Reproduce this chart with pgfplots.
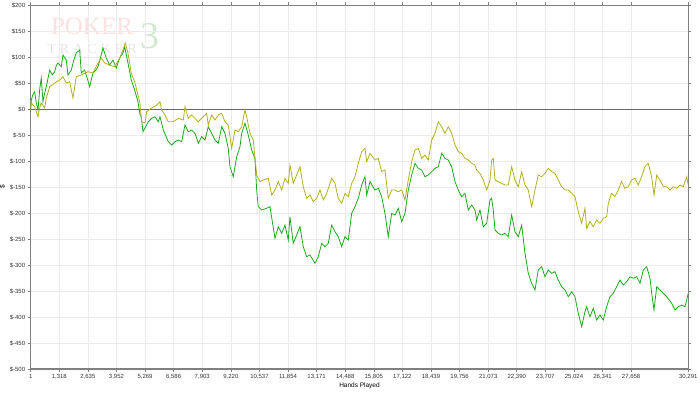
\documentclass[border=0pt]{standalone}
\usepackage{pgfplots}
\pgfplotsset{compat=1.18}
\usepackage{fontspec}
\setmainfont{Liberation Sans}
\newfontfamily\wmfont{Liberation Serif}
\definecolor{pgreen}{RGB}{28,168,28}
\definecolor{polive}{RGB}{178,176,30}
\definecolor{gridc}{RGB}{236,236,236}
\definecolor{axc}{RGB}{128,128,128}
\begin{document}
\begin{tikzpicture}
\path[use as bounding box] (0,0) rectangle (700pt,392pt);
% watermark
\node[inner sep=0pt, text=red!12, font=\wmfont\fontsize{25}{25}\selectfont] at (92pt,366pt) {POKER};
\node[inner sep=0pt, text=black!10, font=\wmfont\fontsize{14}{14}\selectfont] at (92pt,343pt) {T\hspace{4pt}R\hspace{4pt}A\hspace{4pt}C\hspace{4pt}K\hspace{4pt}E\hspace{4pt}R};
\node[inner sep=0pt, text=green!50!black!18, font=\wmfont\fontsize{38}{38}\selectfont] at (150pt,356pt) {3};
\begin{axis}[
  at={(30.7pt,23pt)}, anchor=south west,
  scale only axis, width=657.6pt, height=363.7pt,
  xmin=1, xmax=30291, ymin=-500, ymax=200,
  xtick={1,1318,2635,3952,5269,6586,7903,9220,10537,11854,13171,14488,15805,17122,18439,19756,21073,22390,23707,25024,26341,27658,30291},
  xticklabels={1,{1,318},{2,635},{3,952},{5,269},{6,586},{7,903},{9,220},{10,537},{11,854},{13,171},{14,488},{15,805},{17,122},{18,439},{19,756},{21,073},{22,390},{23,707},{25,024},{26,341},{27,658},{30,291}},
  ytick={-500,-450,-400,-350,-300,-250,-200,-150,-100,-50,0,50,100,150,200},
  yticklabels={\$-500,\$-450,\$-400,\$-350,\$-300,\$-250,\$-200,\$-150,\$-100,\$-50,\$0,\$50,\$100,\$150,\$200},
  grid=major, major grid style={draw=gridc, line width=0.6pt},
  axis line style={draw=axc, line width=1.2pt},
  tick align=outside, major tick length=3pt,
  tick style={draw=axc, line width=0.6pt},
  tick label style={font=\fontsize{6}{7}\selectfont, text=black!80},
  xticklabel style={yshift=1pt},
  yticklabel style={xshift=1pt},
  xlabel={Hands Played}, ylabel={\$},
  label style={font=\fontsize{6.5}{7}\selectfont},
  xlabel style={yshift=4pt},
  ylabel style={yshift=-2pt},
  scaled x ticks=false,
]
\addplot[black!60, line width=0.9pt, forget plot] coordinates {(1,0) (30291,0)};
\addplot[pgreen, line width=0.8pt] coordinates {
(1,0) (28,17.7) (100,28) (184,33.7) (260,12) (336,-1.5) (420,40) (488,60) (567,14.4) (640,30) (719,43.3) (800,60) (875,75.4) (990,66) (1105,72.2) (1180,84) (1257,88.9) (1409,81.8) (1488,104.3) (1640,94.7) (1718,65.8) (1870,75.4) (1990,95) (2100,108.2) (2257,113.9) (2331,69.7) (2487,75.4) (2600,60) (2718,43.3) (2870,69.7) (3000,75) (3100,81.8) (3220,100) (3330,117.8) (3482,98.5) (3639,85.1) (3791,94.7) (3943,79.3) (4099,98.5) (4251,108.2) (4330,120.3) (4482,88.9) (4634,56.2) (4790,37) (4942,14.4) (5034,-10) (5094,-14.4) (5173,-43.3) (5265,-36.2) (5417,-24.1) (5573,-17.5) (5725,-14.4) (5877,-24.1) (5956,-14.4) (6108,-40) (6338,-62.5) (6494,-68.9) (6647,-62.5) (6798,-59.3) (6955,-62.5) (7107,-30.4) (7259,-43.3) (7416,-40) (7568,-46.4) (7720,-65.6) (7876,-52.9) (8028,-59.3) (8180,-33.7) (8337,-46.4) (8489,-59.3) (8641,-65.6) (8798,-33.7) (8950,-46.4) (9101,-75.3) (9180,-110.7) (9332,-129.9) (9488,-91.4) (9640,-72.2) (9719,-46.4) (9871,-27.1) (10023,-49.7) (10179,-78.5) (10331,-94.5) (10410,-155.5) (10483,-187.6) (10640,-194) (10870,-190.7) (11022,-187.6) (11253,-248.5) (11405,-226.1) (11561,-238.8) (11713,-222.9) (11865,-251.7) (11943,-206.9) (12095,-258.1) (12252,-242.1) (12404,-226.1) (12556,-264.6) (12713,-283.9) (12865,-280.6) (13095,-296.6) (13247,-283.9) (13404,-258.1) (13556,-264.6) (13708,-258.1) (13864,-222.9) (14016,-235.8) (14168,-245.4) (14325,-264.6) (14477,-245.4) (14629,-251.7) (14785,-200.4) (14937,-187.6) (15089,-171.5) (15246,-145.9) (15398,-129.9) (15476,-165.1) (15628,-139.5) (15858,-155.5) (16011,-152.2) (16167,-168.4) (16319,-200.4) (16471,-245.4) (16628,-200.4) (16780,-203.6) (16932,-190.7) (17089,-216.5) (17241,-200.4) (17393,-155.5) (17549,-126.6) (17701,-104.1) (17853,-113.7) (18010,-117) (18162,-129.9) (18314,-126.6) (18471,-120.3) (18623,-113.7) (18775,-110.7) (18931,-84.9) (19083,-94.5) (19235,-97.8) (19392,-110.7) (19544,-139.5) (19696,-155.5) (19852,-168.4) (20004,-161.9) (20156,-194) (20313,-184.4) (20465,-194) (20543,-213.2) (20695,-194) (20847,-226.1) (21004,-219.6) (21156,-174.8) (21234,-171.5) (21308,-194) (21386,-232.5) (21538,-238.8) (21695,-242.1) (21847,-238.8) (21999,-245.4) (22155,-203.6) (22307,-235.8) (22459,-245.4) (22616,-222.9) (22768,-277.3) (22920,-315.8) (23076,-335.1) (23228,-348) (23380,-309.5) (23537,-303.1) (23689,-322.4) (23841,-309.5) (23997,-315.8) (24149,-312.7) (24301,-328.7) (24458,-341.6) (24610,-348) (24762,-360.9) (24919,-351.2) (25071,-360.9) (25223,-392.8) (25379,-418.6) (25531,-389.7) (25609,-380.1) (25761,-399.4) (25914,-383.2) (26070,-405.7) (26222,-396.1) (26374,-405.7) (26531,-380.1) (26683,-360.9) (26835,-354.3) (26992,-341.6) (27144,-328.7) (27296,-338.3) (27453,-332) (27605,-322.4) (27757,-325.4) (27914,-322.4) (28066,-335.1) (28218,-309.5) (28375,-303.1) (28527,-325.4) (28605,-354.3) (28711,-386.5) (28836,-341.6) (28988,-348) (29140,-354.3) (29296,-360.9) (29527,-373.6) (29679,-386.5) (29831,-380.1) (29988,-376.8) (30140,-380.1) (30290,-354.3)
};
\addplot[polive, line width=0.8pt] coordinates {
(1,0) (14,13.9) (100,8) (184,4.8) (260,-5) (336,-14.4) (400,0) (474,11.9) (645,2.3) (719,21.6) (875,43.3) (1105,50.4) (1336,56.2) (1488,62.5) (1640,50.4) (1796,52.9) (1948,21.6) (2100,62.5) (2331,65.8) (2639,72.2) (2870,69.7) (3100,88.9) (3252,98.5) (3408,88.9) (3639,85.1) (3869,81.8) (4099,98.5) (4251,113.9) (4357,127.4) (4482,108.2) (4634,69.7) (4790,52.9) (4942,27.3) (5034,11.4) (5113,-24.1) (5265,-26.6) (5343,-4.8) (5573,2.3) (5804,8.1) (5956,14.4) (6034,-1.5) (6186,-11.2) (6338,-24.1) (6568,-24.1) (6798,-17.5) (7029,-20.8) (7107,4.8) (7259,-17.5) (7416,-11.2) (7568,-17.5) (7720,-24.1) (7876,-17.5) (8106,-7.9) (8180,-30.4) (8337,-11.2) (8489,-20.8) (8641,-11.2) (8798,-7.9) (8950,-24.1) (9101,-30.4) (9258,-75.3) (9410,-40) (9562,-43.3) (9719,-33.7) (9871,-1.5) (9949,-14.4) (10101,-46.4) (10253,-59.3) (10410,-126.6) (10562,-139.5) (10714,-136.3) (10944,-133) (11101,-165.1) (11253,-155.5) (11405,-139.5) (11561,-155.5) (11713,-133) (11865,-142.6) (11943,-107.4) (12095,-142.6) (12252,-126.6) (12404,-110.7) (12556,-149.2) (12713,-171.5) (12865,-165.1) (13017,-178) (13173,-171.5) (13325,-155.5) (13477,-174.8) (13634,-161.9) (13864,-133) (14016,-142.6) (14168,-171.5) (14325,-181.1) (14477,-161.9) (14629,-168.4) (14785,-142.6) (14937,-129.9) (15089,-104.1) (15246,-81.8) (15398,-75.3) (15476,-101) (15628,-84.9) (15858,-97.8) (16011,-94.5) (16167,-120.3) (16319,-117) (16471,-171.5) (16628,-155.5) (16780,-155.5) (16932,-158.8) (17089,-155.5) (17241,-174.8) (17393,-136.3) (17549,-101) (17701,-78.5) (17853,-75.3) (18010,-94.5) (18162,-88.1) (18314,-97.8) (18471,-59.3) (18623,-46.4) (18775,-24.1) (18931,-33.7) (19083,-46.4) (19235,-33.7) (19392,-46.4) (19544,-68.9) (19696,-81.8) (19852,-84.9) (20004,-94.5) (20156,-97.8) (20313,-104.1) (20465,-107.4) (20543,-117) (20695,-123.4) (20847,-136.3) (21004,-155.5) (21156,-136.3) (21234,-97.8) (21308,-94.5) (21386,-136.3) (21538,-139.5) (21695,-142.6) (21847,-145.9) (21999,-145.9) (22155,-110.7) (22307,-136.3) (22459,-149.2) (22616,-120.3) (22768,-145.9) (22920,-155.5) (23076,-187.6) (23228,-155.5) (23380,-126.6) (23537,-129.9) (23689,-123.4) (23841,-113.7) (23997,-120.3) (24149,-123.4) (24301,-136.3) (24458,-149.2) (24610,-155.5) (24762,-155.5) (24919,-161.9) (25071,-168.4) (25223,-197.3) (25379,-219.6) (25531,-190.7) (25609,-229.2) (25761,-216.5) (25914,-226.1) (26070,-213.2) (26222,-219.6) (26374,-210) (26531,-206.9) (26605,-181.1) (26757,-161.9) (26909,-168.4) (27061,-155.5) (27218,-139.5) (27370,-152.2) (27522,-149.2) (27679,-136.3) (27831,-133) (27983,-145.9) (28140,-129.9) (28292,-110.7) (28444,-104.1) (28601,-129.9) (28711,-165.1) (28836,-126.6) (28988,-136.3) (29140,-149.2) (29296,-149.2) (29448,-155.5) (29601,-149.2) (29757,-152.2) (29909,-145.9) (30061,-149.2) (30217,-129.9) (30290,-145.9)
};
\end{axis}
\end{tikzpicture}
\end{document}
